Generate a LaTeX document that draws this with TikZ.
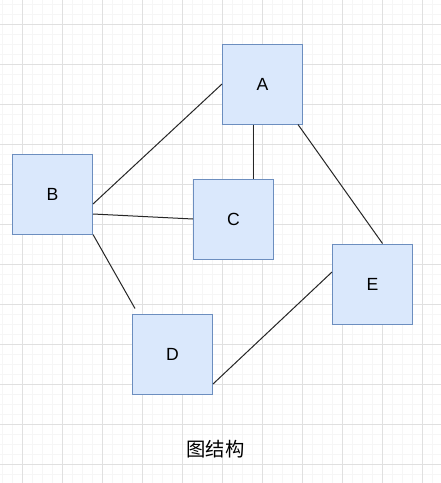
\documentclass[tikz,border=0pt]{standalone}
\usepackage{fontspec}
\setmainfont{Liberation Sans}
\newfontfamily\cjk{Noto Sans CJK SC}
\usetikzlibrary{calc}
\definecolor{boxfill}{HTML}{DAE8FC}
\definecolor{boxline}{HTML}{6C8EBF}
\definecolor{gridmajor}{HTML}{E0E0E0}
\definecolor{gridminor}{HTML}{F6F6F6}
\tikzset{
  vbox/.style={draw=boxline, fill=boxfill, line width=0.75pt, minimum width=60pt, minimum height=60pt, inner sep=0pt, font=\fontsize{13.2pt}{15pt}\selectfont},
  edge/.style={draw=black!85, line width=0.75pt},
  caption/.style={font=\cjk\fontsize{14.5pt}{16pt}\selectfont, inner sep=0pt}
}
\begin{document}
\begin{tikzpicture}[x=0.75pt, y=-0.75pt]
\useasboundingbox (0,0) rectangle (441,483);
\fill[white] (0,0) rectangle (441,483);
% minor grid
\foreach \i in {0,...,44} {
  \draw[gridminor, line width=0.75pt] ({2+10*\i},0) -- ({2+10*\i},483);
}
\foreach \j in {0,...,48} {
  \draw[gridminor, line width=0.75pt] (0,{4+10*\j}) -- (441,{4+10*\j});
}
% major grid
\foreach \i in {0,...,10} {
  \draw[gridmajor, line width=0.75pt] ({22+40*\i},0) -- ({22+40*\i},483);
}
\foreach \j in {0,...,11} {
  \draw[gridmajor, line width=0.75pt] (0,{24+40*\j}) -- (441,{24+40*\j});
}
% nodes
\node[vbox] (A) at (262.5,84) {A};
\node[vbox] (B) at (52.5,194) {B};
\node[vbox] (C) at (233.5,219) {C};
\node[vbox] (D) at (172.5,354) {D};
\node[vbox] (E) at (372.5,284) {E};
\coordinate (Dend) at ($(D.north west)+(3,-5)$);
% edges
\draw[edge] (A.west) -- ($(B.east)+(0,10)$);
\draw[edge] ($(A.south)+(-9,0)$) -- ($(C.north)+(20,0)$);
\draw[edge] ($(A.south east)+(-5,0)$) -- ($(E.north)+(10,0)$);
\draw[edge] ($(B.east)+(0,20)$) -- (C.west);
\draw[edge] (B.south east) -- (Dend);
\draw[edge] ($(D.east)+(0,30)$) -- ($(E.west)+(0,-12)$);
% caption
\node[caption] (cap) at (215.5,449) {图结构};
\end{tikzpicture}
\end{document}
